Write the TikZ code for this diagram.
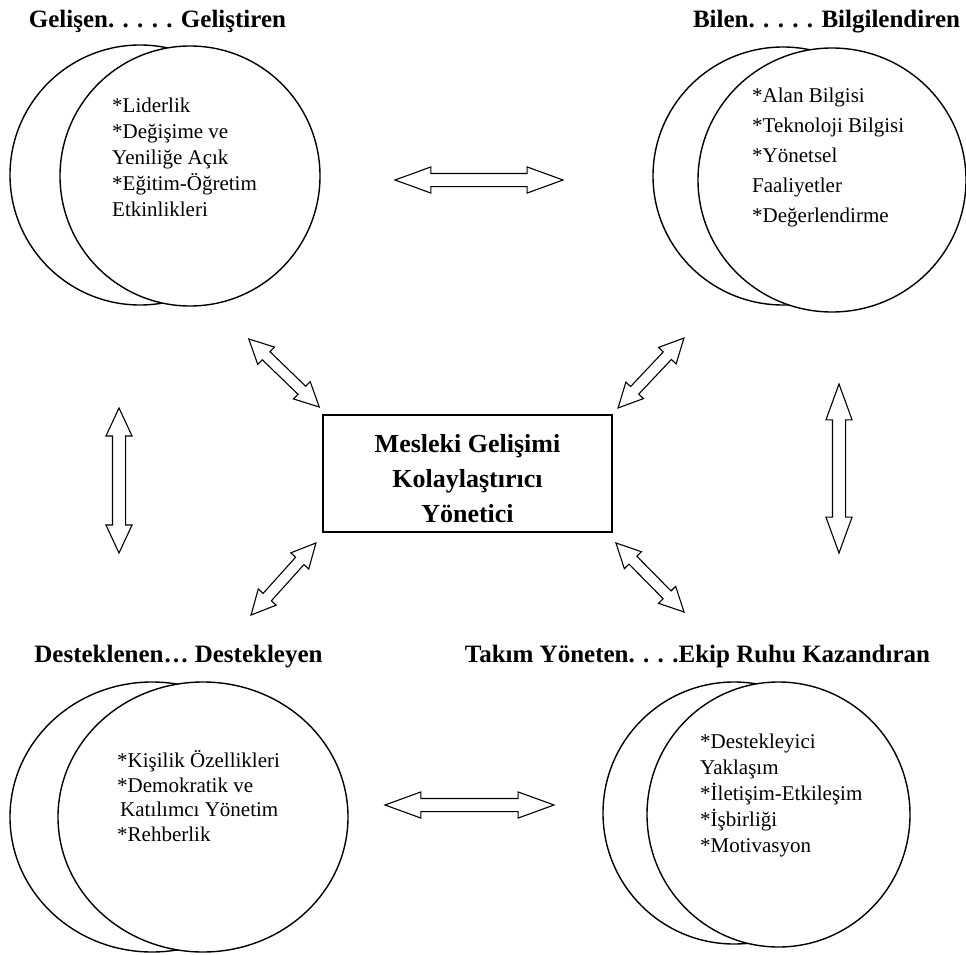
\documentclass[tikz,border=0pt]{standalone}
\usepackage{fontspec}
\setmainfont{Liberation Serif}
\usetikzlibrary{shapes.arrows}

\begin{document}
\begin{tikzpicture}[x=1pt,y=-1pt,
    title/.style={font=\bfseries\fontsize{25}{30}\selectfont,anchor=base,inner sep=0pt},
    items/.style={font=\fontsize{21}{26}\selectfont,align=left,anchor=north west,inner sep=0pt},
    ring/.style={draw,line width=1.4pt,fill=white},
    dblarrow/.style={draw,line width=1.1pt,double arrow,double arrow head extend=6.5pt,
      double arrow tip angle=40,minimum width=25pt,inner xsep=0pt,inner ysep=6pt}]
  \useasboundingbox (0,0) rectangle (966,955);

  % Top left
  \node[title] (gelisen) at (157.5,28) {Gelişen. . . . . Geliştiren};
  \draw[ring] (140,175) ellipse [x radius=130pt,y radius=130pt];
  \draw[ring] (190,176) ellipse [x radius=130pt,y radius=130pt];
  \node[items] (gelisenList) at (112,97.5)
    {*Liderlik\\*Değişime ve\\Yeniliğe Açık\\*Eğitim-Öğretim\\Etkinlikleri};

  % Top right
  \node[title] (bilen) at (826.5,28) {Bilen. . . . . Bilgilendiren};
  \draw[ring] (783,176) ellipse [x radius=130pt,y radius=129pt];
  \draw[ring] (832,180) ellipse [x radius=134pt,y radius=132pt];
  \node[items,font=\fontsize{21}{30}\selectfont] (bilenList) at (752,88)
    {*Alan Bilgisi\\*Teknoloji Bilgisi\\*Yönetsel\\Faaliyetler\\*Değerlendirme};

  % Bottom left
  \node[title] (destek) at (178.5,662) {Desteklenen… Destekleyen};
  \draw[ring] (152,817) ellipse [x radius=142pt,y radius=135pt];
  \draw[ring] (203,817) ellipse [x radius=145pt,y radius=135pt];
  \node[items,font=\fontsize{21}{24.5}\selectfont] (destekList) at (117,750.5)
    {*Kişilik Özellikleri\\*Demokratik ve\\\hspace{3pt}Katılımcı Yönetim\\*Rehberlik};

  % Bottom right
  \node[title] (takim) at (697.5,662) {Takım Yöneten. . . .Ekip Ruhu Kazandıran};
  \draw[ring] (734,813) ellipse [x radius=131pt,y radius=131pt];
  \draw[ring] (778.5,814.5) ellipse [x radius=131.5pt,y radius=132.5pt];
  \node[items] (takimList) at (700,733.7)
    {*Destekleyici\\Yaklaşım\\*İletişim-Etkileşim\\*İşbirliği\\*Motivasyon};

  % Center
  \node[draw,line width=1.4pt,minimum width=289pt,minimum height=117pt,
    align=center,font=\bfseries\fontsize{26}{35}\selectfont] (yonetici) at (467.5,473.5)
    {\rule{0pt}{28pt}Mesleki Gelişimi\\Kolaylaştırıcı\\Yönetici};

  % Arrows
  \node[dblarrow,minimum height=168pt] (okUst) at (479,180) {};
  \node[dblarrow,minimum height=169pt,minimum width=24pt] (okAlt) at (469.5,805) {};
  \node[dblarrow,minimum height=145pt,rotate=90,double arrow tip angle=50] (okSol) at (119,480.5) {};
  \node[dblarrow,minimum height=169pt,rotate=90] (okSag) at (839,468.5) {};
  \node[dblarrow,minimum height=98pt,rotate=-44,double arrow tip angle=53,minimum width=24pt,inner ysep=5pt] (okSolUst) at (284,373) {};
  \node[dblarrow,minimum height=96pt,rotate=46.7,double arrow tip angle=53,minimum width=24pt,inner ysep=5pt] (okSagUst) at (651,373) {};
  \node[dblarrow,minimum height=97pt,rotate=48,double arrow tip angle=53,minimum width=24pt,inner ysep=5pt] (okSolAlt) at (283.5,579) {};
  \node[dblarrow,minimum height=97pt,rotate=-45.4,double arrow tip angle=53,minimum width=24pt,inner ysep=5pt] (okSagAlt) at (650,577.5) {};
\end{tikzpicture}
\end{document}
